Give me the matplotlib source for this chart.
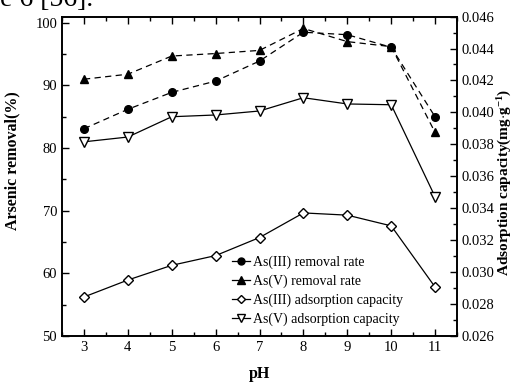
import matplotlib
matplotlib.use("Agg")
import matplotlib.pyplot as plt
from matplotlib.ticker import MultipleLocator
from matplotlib.lines import Line2D

plt.rcParams['font.family'] = ['Liberation Serif', 'DejaVu Serif']
plt.rcParams['mathtext.fontset'] = 'custom'
plt.rcParams['mathtext.rm'] = 'Liberation Serif'
plt.rcParams['mathtext.bf'] = 'Liberation Serif:bold'
plt.rcParams['mathtext.default'] = 'bf'

ph = [3, 4, 5, 6, 7, 8, 9, 10, 11]
as3_removal = [83.1, 86.2, 88.9, 90.7, 93.9, 98.5, 98.1, 96.1, 85.0]
as5_removal = [91.0, 91.8, 94.7, 95.1, 95.6, 99.1, 97.0, 96.2, 82.5]
as3_capacity = [0.02845, 0.02951, 0.03043, 0.03104, 0.03217, 0.03371, 0.03357, 0.03290, 0.02907]
as5_capacity = [0.03816, 0.03846, 0.03973, 0.03984, 0.04009, 0.04092, 0.04053, 0.04048, 0.03472]
labels = ['As(III) removal rate', 'As(V) removal rate',
          'As(III) adsorption capacity', 'As(V) adsorption capacity']

fig = plt.figure(figsize=(5.17, 3.85), dpi=100)
ax = fig.add_axes([0.120, 0.127, 0.764, 0.830])
ax2 = ax.twinx()

dash = (0, (5, 3.5))
l1, = ax.plot(ph, as3_removal, color='black', lw=0.9, ls=dash, marker='o', ms=5.5)
l2, = ax.plot(ph, as5_removal, color='black', lw=0.9, ls=dash, marker='^', ms=6)
l3, = ax2.plot(ph, as3_capacity, color='black', lw=0.9, marker='D', ms=5, mfc='white')
l4, = ax2.plot(ph, as5_capacity, color='black', lw=0.9, marker='v', ms=6.5, mfc='white')

ax.set_xlim(2.5, 11.5)
ax.set_ylim(50, 101)
ax2.set_ylim(0.026, 0.046)

ax.xaxis.set_major_locator(MultipleLocator(1))
ax.xaxis.set_minor_locator(MultipleLocator(0.5))
ax.yaxis.set_major_locator(MultipleLocator(10))
ax.yaxis.set_minor_locator(MultipleLocator(5))
ax2.yaxis.set_major_locator(MultipleLocator(0.002))
ax2.yaxis.set_minor_locator(MultipleLocator(0.001))
ax2.yaxis.set_major_formatter(matplotlib.ticker.FormatStrFormatter('%.3f'))

ax.tick_params(axis='both', which='both', direction='in', top=True, labelsize=10.5, width=1)
ax.tick_params(which='major', length=5)
ax.tick_params(which='minor', length=3)
ax.tick_params(axis='y', which='both', right=False)
ax2.tick_params(axis='y', which='both', direction='in', labelsize=10.5, width=1, pad=3)
ax2.tick_params(which='major', length=5)
ax2.tick_params(which='minor', length=3)

for a in (ax, ax2):
    for s in a.spines.values():
        s.set_linewidth(1.2)

ax.set_xlabel('pH', fontsize=11.5, fontweight='bold')
ax.xaxis.set_label_coords(0.5, -0.092)
ax.set_ylabel('Arsenic removal(%)', fontsize=11.5, fontweight='bold')
ax.yaxis.set_label_coords(-0.105, 0.55)
ax2.set_ylabel(r'Adsorption capacity(mg$\cdot$g$^{-1}$)', fontsize=11, fontweight='bold')
ax2.yaxis.set_label_coords(1.099, 0.48)

h1 = Line2D([], [], color='black', lw=0.9, marker='o', ms=5)
h2 = Line2D([], [], color='black', lw=0.9, marker='^', ms=5.5)
h3 = Line2D([], [], color='black', lw=0.9, marker='D', ms=4.5, mfc='white')
h4 = Line2D([], [], color='black', lw=0.9, marker='v', ms=5.5, mfc='white')
ax2.legend([h1, h2, h3, h4], labels, loc='lower left', bbox_to_anchor=(0.405, 0.0),
           frameon=False, fontsize=10, handlelength=1.3, handletextpad=0.25,
           labelspacing=0.4, borderpad=0.2)

fig.text(0.0, 1.0, 'e 6 [56].', fontsize=20, va='center', ha='left')

fig.savefig('out.png', dpi=100)
